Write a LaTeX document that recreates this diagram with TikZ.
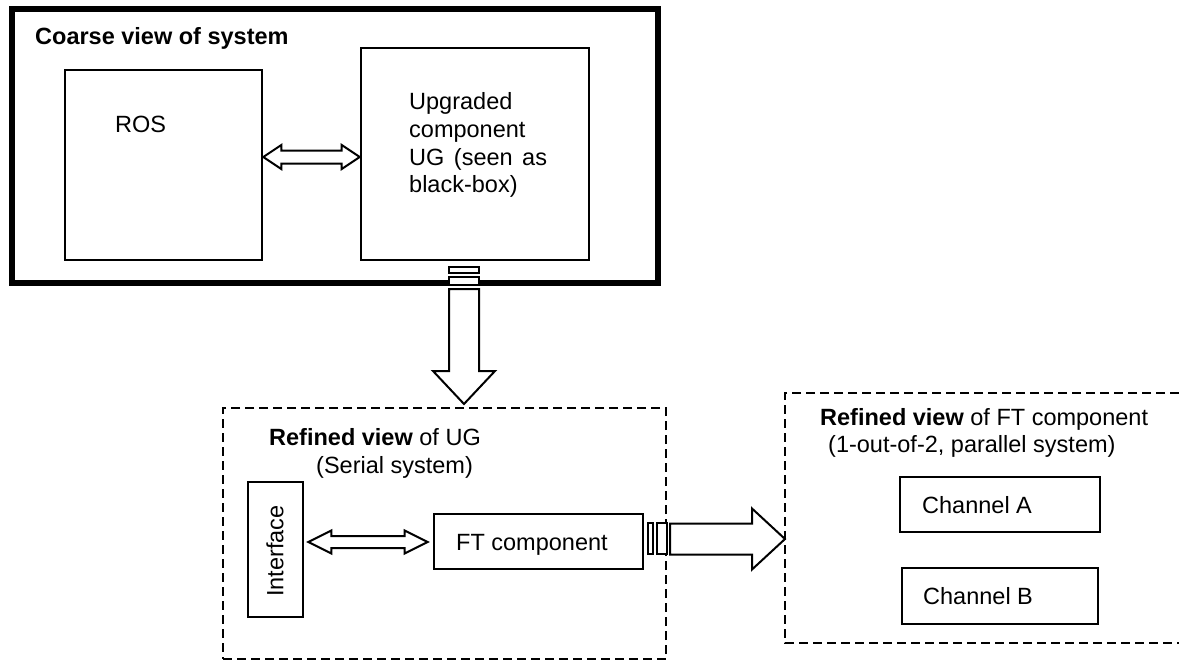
\documentclass[tikz,border=0pt]{standalone}
\usepackage{fontspec}
\setmainfont{Liberation Sans}
\usetikzlibrary{calc}
% Two-headed block arrow between two points:
% #1 left tip, #2 right tip, #3 head length, #4 head half-width, #5 shaft half-width
\newcommand\twowayarrow[5]{%
  \draw[blockarrow] (#1) -- ($(#1)+(#3,-#4)$) -- ($(#1)+(#3,-#5)$)
    -- ($(#2)+(-#3,-#5)$) -- ($(#2)+(-#3,-#4)$) -- (#2)
    -- ($(#2)+(-#3,#4)$) -- ($(#2)+(-#3,#5)$)
    -- ($(#1)+(#3,#5)$) -- ($(#1)+(#3,#4)$) -- cycle;}
\begin{document}
\begin{tikzpicture}[x=1pt,y=-1pt,
  box/.style={draw, line width=2.6pt, inner sep=0pt},
  frame/.style={draw, line width=6pt, inner sep=0pt},
  dashframe/.style={draw, line width=1.8pt, dash pattern=on 9pt off 5pt},
  lbl/.style={inner sep=0pt, anchor=base west, font=\fontsize{23.5}{27.3}\selectfont},
  blockarrow/.style={draw, fill=white, line width=2pt, line join=miter},
  plug/.style={draw, fill=white, line width=2pt, inner sep=0pt},
]
\useasboundingbox (0,0) rectangle (1179,661);

% ---------- coarse view ----------
\node[frame, minimum width=646pt, minimum height=274pt] (coarse) at (335,146) {};
\node[lbl, font=\fontsize{23.5}{27.3}\selectfont\bfseries] (coarsetitle) at (35,45) {Coarse view of system};

\node[box, minimum width=197pt, minimum height=190pt] (ros) at (163.5,165) {};
\node[lbl] (rostext) at (115,132) {ROS};

\node[box, minimum width=228pt, minimum height=212pt] (ug) at (475,154) {};
\node[lbl] (ugtext1) at (409,110) {Upgraded};
\node[lbl] (ugtext2) at (409,137) {component};
\node[lbl] (ugtext3) at (409,165) {UG\hspace{9.5pt}(seen\hspace{9.5pt}as};
\node[lbl] (ugtext4) at (409,192) {black-box)};

\coordinate (a1) at (ros.east |- 0,157);
\coordinate (a2) at (ug.west |- 0,157);
\twowayarrow{a1}{a2}{18}{12}{6.5}

% ---------- refinement arrow down ----------
\node[plug, minimum width=30pt, minimum height=6pt] (cap1) at (464,270) {};
\node[plug, minimum width=30pt, minimum height=8pt] (cap2) at (464,281) {};
\coordinate (dtip) at (464,404);
\draw[blockarrow] (dtip) -- ++(-31,-33) -- ++(16,0) -- ++(0,-82) -- ++(30,0)
  -- ++(0,82) -- ++(16,0) -- cycle;

% ---------- refined view of UG ----------
\node[dashframe, minimum width=443pt, minimum height=251pt, inner sep=0pt] (refug) at (444.5,533.5) {};
\node[lbl] (refugtitle) at (269,445) {\textbf{Refined view} of UG};
\node[lbl] (refugsub) at (316,473) {(Serial system)};

\node[box, minimum width=55pt, minimum height=135pt] (iface) at (275.5,549.5) {};
\node[inner sep=0pt, rotate=90, font=\fontsize{23.5}{27.3}\selectfont] (ifacetext) at (275,551) {Interface};

\node[box, minimum width=209pt, minimum height=55pt] (ft) at (538.5,541.5) {};
\node[lbl] (fttext) at (456,550) {FT component};

\coordinate (b1) at ($(iface.east |- 0,542)+(4,0)$);
\coordinate (b2) at ($(ft.west |- 0,542)+(-5,0)$);
\twowayarrow{b1}{b2}{23}{11.5}{6}

% ---------- refinement arrow right ----------
\node[plug, minimum width=5pt, minimum height=31pt] (plug1) at (650.5,538.5) {};
\node[plug, minimum width=10pt, minimum height=31pt] (plug2) at (662,538.5) {};
\coordinate (rtip) at (785,539);
\draw[blockarrow] (rtip) -- ++(-33,-30.5) -- ++(0,15) -- ++(-82,0) -- ++(0,31)
  -- ++(82,0) -- ++(0,15) -- cycle;

% ---------- refined view of FT component ----------
\coordinate (fttl) at (785,393);
\coordinate (ftbl) at (785,643);
\draw[dashframe] (1179,393) -- (fttl) -- (ftbl) -- (1179,643);
\node[lbl] (refft1) at (820,425) {\textbf{Refined view} of FT component};
\node[lbl] (refft2) at (828,452) {(1-out-of-2, parallel system)};

\node[box, minimum width=200pt, minimum height=55pt] (cha) at (1000,504.5) {};
\node[lbl] (chatext) at (922,513) {Channel A};
\node[box, minimum width=196pt, minimum height=56pt] (chb) at (1000,596) {};
\node[lbl] (chbtext) at (923,604) {Channel B};
\end{tikzpicture}
\end{document}
